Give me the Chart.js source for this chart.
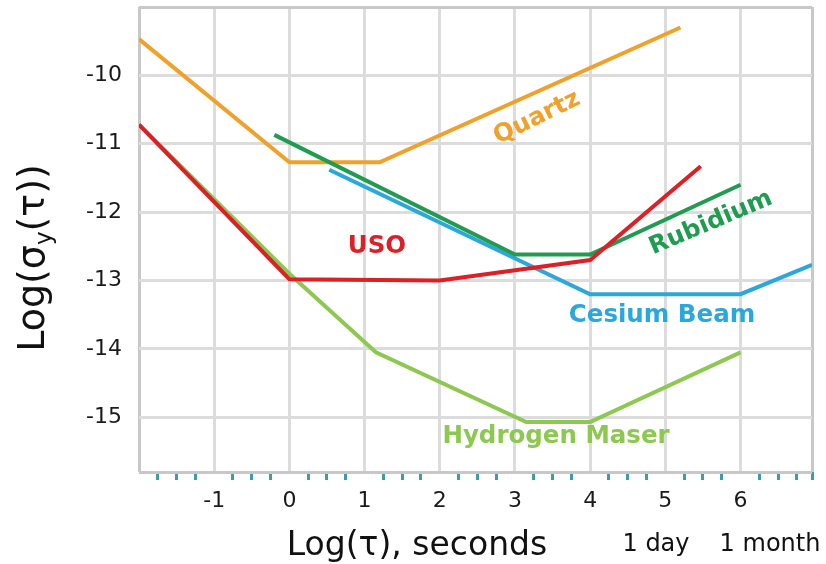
<!DOCTYPE html>
<html>
<head>
<meta charset="utf-8">
<script src="https://cdn.jsdelivr.net/npm/chart.js@4"></script>
<style>
    html, body { margin: 0; padding: 0; background: #fff; }
</style>
</head>
<body>
<canvas id="stabilityChart" width="826" height="564"></canvas>
<script>
// Axis ranges / ticks
const xMin = -2, xMax = 6.95;
const yMin = -15.8, yMax = -9;
const xTicks = [-1, 0, 1, 2, 3, 4, 5, 6];
const yTicks = [-15, -14, -13, -12, -11, -10];
const minorStep = 0.25;

// Break points: Log(tau) vs Log(sigma_y(tau))
const usoX = [-2, 0, 2, 4, 5.47];
const usoY = [-10.72, -12.98, -13.0, -12.7, -11.33];

const rubidiumX = [-0.2, 3, 4, 6];
const rubidiumY = [-10.87, -12.62, -12.62, -11.6];

const cesiumX = [0.53, 4, 6, 6.95];
const cesiumY = [-11.38, -13.2, -13.2, -12.77];

const quartzX = [-2, 0, 1.2, 5.2];
const quartzY = [-9.47, -11.27, -11.27, -9.3];

const maserX = [-2, 0, 1.15, 3.15, 4, 6];
const maserY = [-10.72, -12.9, -14.05, -15.07, -15.07, -14.05];

const gridColor = '#dcdcdc';
const frameColor = '#c8c8c8';
const minorTickColor = '#3a9ea6';

const colors = {
    uso: '#dd1f26',
    rubidium: '#1f9c4f',
    cesium: '#2ba7dd',
    quartz: '#f0a12a',
    maser: '#8dc851'
};

function toPoints(xs, ys) {
    return xs.map((x, i) => ({ x: x, y: ys[i] }));
}

function makeSeries(label, xs, ys, color) {
    return {
        label: label,
        data: toPoints(xs, ys),
        borderColor: color,
        backgroundColor: color,
        borderWidth: 4,
        pointRadius: 0,
        tension: 0,
        fill: false
    };
}

// In-plot labels (pixel anchors)
const seriesLabels = [
    { text: 'Quartz', color: colors.quartz, x: 537, y: 118, angle: -26 },
    { text: 'Rubidium', color: colors.rubidium, x: 711, y: 223, angle: -23 },
    { text: 'USO', color: colors.uso, x: 377, y: 247, angle: 0 },
    { text: 'Cesium Beam', color: colors.cesium, x: 662, y: 316, angle: 0 },
    { text: 'Hydrogen Maser', color: colors.maser, x: 556, y: 437, angle: 0 }
];

const labelPlugin = {
    id: 'labelPlugin',
    afterDatasetsDraw(chart) {
        const c = chart.ctx;
        c.save();
        c.font = 'bold 24.5px "DejaVu Sans"';
        c.textAlign = 'center';
        c.textBaseline = 'middle';
        seriesLabels.forEach(l => {
            c.save();
            c.translate(l.x, l.y);
            c.rotate(l.angle * Math.PI / 180);
            c.fillStyle = l.color;
            c.fillText(l.text, 0, 0);
            c.restore();
        });
        c.restore();
    },
    afterDraw(chart) {
        const c = chart.ctx;
        c.save();
        c.fillStyle = '#111';

        // x axis title and time markers
        c.textBaseline = 'alphabetic';
        c.textAlign = 'center';
        c.font = '33px "DejaVu Sans"';
        c.fillText('Log(τ), seconds', 417, 555);
        c.font = '24px "DejaVu Sans"';
        c.fillText('1 day', 656, 551);
        c.fillText('1 month', 770, 551);

        // y axis title with subscript
        const big = '38px "DejaVu Sans"';
        const small = '23px "DejaVu Sans"';
        const parts = [
            { t: 'Log(σ', f: big, dy: 0 },
            { t: 'y', f: small, dy: 7 },
            { t: '(τ))', f: big, dy: 0 }
        ];
        let total = 0;
        parts.forEach(p => { c.font = p.f; p.w = c.measureText(p.t).width; total += p.w; });
        c.translate(44, 258);
        c.rotate(-Math.PI / 2);
        c.textAlign = 'left';
        let pos = -total / 2;
        parts.forEach(p => {
            c.font = p.f;
            c.fillText(p.t, pos, p.dy);
            pos += p.w;
        });
        c.restore();
    }
};

function noPad(s) {
    s.paddingTop = 0;
    s.paddingBottom = 0;
    s.paddingLeft = 0;
    s.paddingRight = 0;
}

Chart.defaults.font.family = '"DejaVu Sans"';
Chart.defaults.color = '#1a1a1a';

const ctx = document.getElementById('stabilityChart');
new Chart(ctx, {
    type: 'line',
    data: {
        datasets: [
            makeSeries('USO', usoX, usoY, colors.uso),
            makeSeries('Rubidium', rubidiumX, rubidiumY, colors.rubidium),
            makeSeries('Cesium Beam', cesiumX, cesiumY, colors.cesium),
            makeSeries('Quartz', quartzX, quartzY, colors.quartz),
            makeSeries('Hydrogen Maser', maserX, maserY, colors.maser)
        ]
    },
    options: {
        responsive: false,
        animation: false,
        layout: { padding: { left: 0, right: 14, top: 7, bottom: 0 } },
        plugins: {
            legend: { display: false },
            tooltip: { enabled: false }
        },
        scales: {
            x: {
                type: 'linear',
                position: 'bottom',
                weight: 1,
                min: xMin,
                max: xMax,
                afterBuildTicks: s => {
                    s.ticks = [xMin, ...xTicks, xMax].map(v => ({ value: v }));
                },
                afterFit: s => { s.height = 84; noPad(s); },
                border: { display: false },
                grid: {
                    drawTicks: false,
                    lineWidth: 3,
                    color: c => (c.tick && (c.tick.value === xMin || c.tick.value === xMax)) ? frameColor : gridColor
                },
                ticks: {
                    padding: 8,
                    font: { size: 22 },
                    maxRotation: 0,
                    autoSkip: false,
                    callback: v => xTicks.includes(v) ? String(v) : ''
                }
            },
            xMinor: {
                type: 'linear',
                position: 'bottom',
                weight: 0,
                min: xMin,
                max: xMax,
                afterBuildTicks: s => {
                    const list = [];
                    for (let v = xMin + minorStep; v < xMax; v += minorStep) {
                        if (Math.abs(v - Math.round(v)) > 1e-6) list.push({ value: v });
                    }
                    list.push({ value: xMax });
                    s.ticks = list;
                },
                afterFit: s => { s.height = 8; noPad(s); },
                border: { display: false },
                grid: {
                    drawOnChartArea: false,
                    drawTicks: true,
                    tickLength: 8,
                    tickWidth: 3,
                    lineWidth: 3,
                    tickColor: minorTickColor
                },
                ticks: { display: false, autoSkip: false }
            },
            y: {
                type: 'linear',
                min: yMin,
                max: yMax,
                afterBuildTicks: s => {
                    s.ticks = [yMin, ...yTicks, yMax].map(v => ({ value: v }));
                },
                afterFit: s => { s.width = 139; noPad(s); },
                border: { display: false },
                grid: {
                    drawTicks: false,
                    lineWidth: 3,
                    color: c => (c.tick && (c.tick.value === yMin || c.tick.value === yMax)) ? frameColor : gridColor
                },
                ticks: {
                    padding: 17,
                    font: { size: 22 },
                    autoSkip: false,
                    callback: v => yTicks.includes(v) ? String(v) : ''
                }
            }
        }
    },
    plugins: [labelPlugin]
});
</script>
</body>
</html>
